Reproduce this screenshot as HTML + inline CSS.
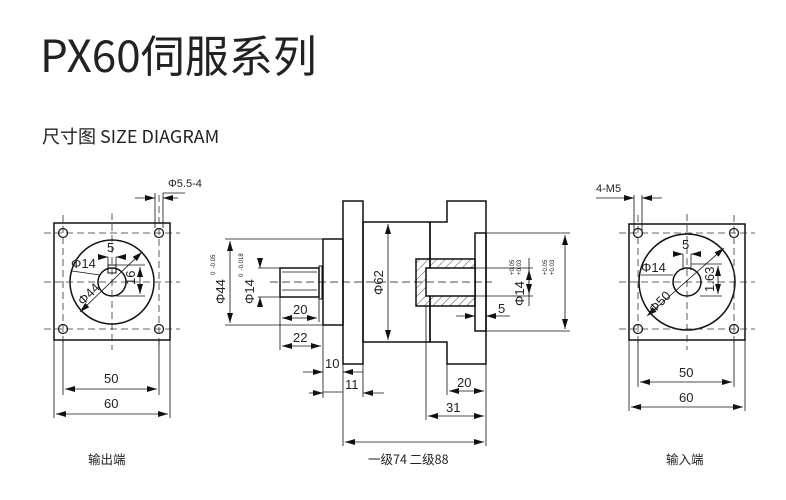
<!DOCTYPE html>
<html><head><meta charset="utf-8"><style>
html,body{margin:0;padding:0;background:#fff;}
svg{display:block;}
text{font-family:"Liberation Sans","Noto Sans CJK SC",sans-serif;fill:#222;}
.cjk{font-family:"Noto Sans CJK SC",sans-serif;}
</style></head><body>
<svg width="786" height="500" viewBox="0 0 786 500" xmlns="http://www.w3.org/2000/svg">
<defs>
<marker id="a" viewBox="0 0 10 6" refX="10" refY="3" markerWidth="10" markerHeight="6" orient="auto-start-reverse" markerUnits="userSpaceOnUse"><path d="M0,0L10,3L0,6z" fill="#111"/></marker>
<pattern id="h" width="6" height="6" patternUnits="userSpaceOnUse" patternTransform="rotate(45)"><line x1="0" y1="0" x2="0" y2="6" stroke="#222" stroke-width="0.8"/></pattern>
</defs>
<text class="cjk" x="40" y="72" font-size="44">PX60伺服系列</text>
<text class="cjk" x="42" y="143" font-size="18">尺寸图 SIZE DIAGRAM</text>

<g stroke="#111" fill="none" stroke-width="1.2">
<!-- LEFT VIEW -->
<rect x="54" y="223" width="116" height="117" stroke-width="1.5"/>
<circle cx="112" cy="282" r="42" stroke-width="1.5"/>
<circle cx="112" cy="282" r="14" stroke-width="1.5"/>
<rect x="108" y="265" width="8" height="8" stroke-width="1"/>
<circle cx="63" cy="233" r="4.5"/><circle cx="159" cy="233" r="4.5"/>
<circle cx="63" cy="329" r="4.5"/><circle cx="159" cy="329" r="4.5"/>
<g stroke-dasharray="7,4" stroke-width="0.8" stroke="#333">
<line x1="112" y1="213" x2="112" y2="350"/><line x1="44" y1="282" x2="180" y2="282"/>
<line x1="63" y1="215" x2="63" y2="345"/><line x1="159" y1="195" x2="159" y2="345"/>
<line x1="44" y1="233" x2="180" y2="233"/><line x1="44" y1="329" x2="180" y2="329"/>
</g>
<g stroke-width="0.8">
<line x1="63" y1="340" x2="63" y2="395"/><line x1="159" y1="340" x2="159" y2="395"/>
<line x1="54" y1="340" x2="54" y2="418"/><line x1="170" y1="340" x2="170" y2="418"/>
<line x1="65" y1="389" x2="157" y2="389" marker-start="url(#a)" marker-end="url(#a)"/>
<line x1="56" y1="414" x2="168" y2="414" marker-start="url(#a)" marker-end="url(#a)"/>
<line x1="155" y1="193" x2="155" y2="228"/><line x1="163" y1="193" x2="163" y2="228"/>
<line x1="135" y1="198" x2="155" y2="198" marker-end="url(#a)"/><line x1="178" y1="198" x2="163" y2="198" marker-end="url(#a)"/>
<line x1="163" y1="193" x2="185" y2="193"/>
<line x1="98" y1="257" x2="108" y2="257" marker-end="url(#a)"/><line x1="126" y1="257" x2="116" y2="257" marker-end="url(#a)"/>
<line x1="108" y1="257" x2="108" y2="265"/><line x1="116" y1="257" x2="116" y2="265"/>
<line x1="116" y1="265" x2="145" y2="265"/><line x1="116" y1="296" x2="145" y2="296"/>
<line x1="140" y1="267" x2="140" y2="294" marker-start="url(#a)" marker-end="url(#a)"/>
<line x1="72" y1="271" x2="100" y2="275"/>
<line x1="80" y1="312" x2="142" y2="252" marker-start="url(#a)" marker-end="url(#a)"/>
</g>

<!-- RIGHT VIEW -->
<rect x="629" y="224" width="116" height="116" stroke-width="1.5"/>
<circle cx="687" cy="282" r="48" stroke-width="1.5"/>
<circle cx="687" cy="282" r="14" stroke-width="1.5"/>
<circle cx="638" cy="233" r="4.5"/><circle cx="734" cy="233" r="4.5"/>
<circle cx="638" cy="329" r="4.5"/><circle cx="734" cy="329" r="4.5"/>
<g stroke-dasharray="7,4" stroke-width="0.8" stroke="#333">
<line x1="687" y1="214" x2="687" y2="350"/><line x1="619" y1="282" x2="755" y2="282"/>
<line x1="638" y1="215" x2="638" y2="345"/><line x1="734" y1="215" x2="734" y2="345"/>
<line x1="619" y1="233" x2="755" y2="233"/><line x1="619" y1="329" x2="755" y2="329"/>
</g>
<g stroke-width="0.8">
<line x1="638" y1="340" x2="638" y2="387"/><line x1="734" y1="340" x2="734" y2="387"/>
<line x1="629" y1="340" x2="629" y2="411"/><line x1="745" y1="340" x2="745" y2="411"/>
<line x1="640" y1="382" x2="732" y2="382" marker-start="url(#a)" marker-end="url(#a)"/>
<line x1="631" y1="407" x2="743" y2="407" marker-start="url(#a)" marker-end="url(#a)"/>
<line x1="634" y1="195" x2="634" y2="230"/><line x1="642" y1="195" x2="642" y2="230"/>
<line x1="596" y1="198" x2="634" y2="198" marker-end="url(#a)"/><line x1="662" y1="198" x2="642" y2="198" marker-end="url(#a)"/>
<line x1="674" y1="254" x2="683" y2="254" marker-end="url(#a)"/><line x1="700" y1="254" x2="691" y2="254" marker-end="url(#a)"/>
<line x1="683" y1="254" x2="683" y2="270"/><line x1="691" y1="254" x2="691" y2="270"/>
<line x1="691" y1="264" x2="722" y2="264"/><line x1="700" y1="296" x2="722" y2="296"/>
<line x1="718" y1="266" x2="718" y2="294" marker-start="url(#a)" marker-end="url(#a)"/>
<line x1="641" y1="275" x2="673" y2="275"/>
<line x1="647" y1="316" x2="724" y2="248" marker-start="url(#a)" marker-end="url(#a)"/>
</g>

<!-- SIDE VIEW -->
<g stroke-width="1.5">
<rect x="280" y="268" width="39" height="29"/>
<rect x="319" y="266" width="3" height="33" stroke-width="1"/>
<rect x="323" y="239" width="20" height="86"/>
<rect x="343" y="201" width="20" height="163"/>
<rect x="363" y="222" width="67" height="120"/>
<path d="M430,222 H447 V201 H486 V364 H447 V342 H430 Z"/>
<rect x="475" y="233" width="11" height="98"/>
<rect x="416" y="259" width="59" height="47" fill="url(#h)"/>
<rect x="426" y="268" width="49" height="28" fill="#fff"/>
</g>
<line x1="282" y1="272" x2="317" y2="272" stroke-width="0.8"/>
<line x1="282" y1="290" x2="317" y2="290" stroke-width="0.8"/>
<line x1="270" y1="282" x2="492" y2="282" stroke-dasharray="8,4" stroke-width="0.8"/>
<g stroke-width="0.8">
<line x1="225" y1="239" x2="323" y2="239"/><line x1="225" y1="325" x2="323" y2="325"/>
<line x1="230" y1="241" x2="230" y2="323" marker-start="url(#a)" marker-end="url(#a)"/>
<line x1="258" y1="268" x2="280" y2="268"/><line x1="258" y1="297" x2="280" y2="297"/>
<line x1="260" y1="258" x2="260" y2="268" marker-end="url(#a)"/><line x1="260" y1="306" x2="260" y2="297" marker-end="url(#a)"/>
<line x1="388" y1="224" x2="388" y2="340" marker-start="url(#a)" marker-end="url(#a)"/>
<line x1="486" y1="233" x2="570" y2="233"/><line x1="486" y1="331" x2="570" y2="331"/>
<line x1="565" y1="235" x2="565" y2="329" marker-start="url(#a)" marker-end="url(#a)"/>
<line x1="426" y1="268" x2="533" y2="268"/><line x1="426" y1="296" x2="533" y2="296"/>
<line x1="529" y1="258" x2="529" y2="306"/>
<line x1="529" y1="270" x2="529" y2="294" marker-start="url(#a)" marker-end="url(#a)"/>
<line x1="456" y1="316" x2="475" y2="316" marker-end="url(#a)"/><line x1="510" y1="316" x2="486" y2="316" marker-end="url(#a)"/>
<line x1="280" y1="297" x2="280" y2="350"/><line x1="319" y1="299" x2="319" y2="322"/>
<line x1="282" y1="318" x2="317" y2="318" marker-start="url(#a)" marker-end="url(#a)"/>
<line x1="323" y1="325" x2="323" y2="398"/>
<line x1="282" y1="346" x2="321" y2="346" marker-start="url(#a)" marker-end="url(#a)"/>
<line x1="343" y1="364" x2="343" y2="446"/><line x1="363" y1="364" x2="363" y2="397"/>
<line x1="303" y1="372" x2="323" y2="372" marker-end="url(#a)"/><line x1="363" y1="372" x2="343" y2="372" marker-end="url(#a)"/>
<line x1="323" y1="392" x2="343" y2="392"/><line x1="309" y1="393" x2="323" y2="393" marker-end="url(#a)"/><line x1="384" y1="393" x2="363" y2="393" marker-end="url(#a)"/>
<line x1="426" y1="306" x2="426" y2="420"/><line x1="447" y1="364" x2="447" y2="395"/><line x1="486" y1="364" x2="486" y2="446"/>
<line x1="449" y1="391" x2="484" y2="391" marker-start="url(#a)" marker-end="url(#a)"/>
<line x1="428" y1="416" x2="484" y2="416" marker-start="url(#a)" marker-end="url(#a)"/>
<line x1="345" y1="442" x2="484" y2="442" marker-start="url(#a)" marker-end="url(#a)"/>
</g>
</g>

<g font-size="13">
<text x="168" y="187" font-size="11">Φ5.5-4</text>
<text x="107" y="252">5</text>
<text x="71" y="268">Φ14</text>
<text x="0" y="0" transform="translate(135,285) rotate(-90)">16</text>
<text x="0" y="0" transform="translate(83,306) rotate(-45)">Φ44</text>
<text x="104" y="383">50</text>
<text x="104" y="408">60</text>
<text class="cjk" x="88" y="464" font-size="12.5">输出端</text>

<text x="596" y="192" font-size="11">4-M5</text>
<text x="682" y="249">5</text>
<text x="641" y="272">Φ14</text>
<text x="0" y="0" transform="translate(714,292) rotate(-90)">1.63</text>
<text x="0" y="0" transform="translate(654,314) rotate(-45)">Φ50</text>
<text x="679" y="377">50</text>
<text x="679" y="402">60</text>
<text class="cjk" x="666" y="464" font-size="12.5">输入端</text>

<text x="0" y="0" transform="translate(225,304) rotate(-90)">Φ44</text>
<text x="0" y="0" transform="translate(215,275) rotate(-90)" font-size="6">0 &#160;-0.05</text>
<text x="0" y="0" transform="translate(254,304) rotate(-90)">Φ14</text>
<text x="0" y="0" transform="translate(243,277) rotate(-90)" font-size="6">0 &#160;-0.018</text>
<text x="0" y="0" transform="translate(383,295) rotate(-90)">Φ62</text>
<text x="0" y="0" transform="translate(524,306) rotate(-90)">Φ14</text>
<text x="0" y="0" transform="translate(514,275) rotate(-90)" font-size="6">+0.05</text>
<text x="0" y="0" transform="translate(521,275) rotate(-90)" font-size="6">+0.03</text>
<text x="0" y="0" transform="translate(547,275) rotate(-90)" font-size="6">+0.05</text>
<text x="0" y="0" transform="translate(554,275) rotate(-90)" font-size="6">+0.03</text>
<text x="498" y="313">5</text>
<text x="293" y="314">20</text>
<text x="293" y="342">22</text>
<text x="325" y="368">10</text>
<text x="345" y="389">11</text>
<text x="457" y="387">20</text>
<text x="446" y="412">31</text>
<text class="cjk" x="368" y="464" font-size="12.5">一级74 二级88</text>
</g>
</svg>
</body></html>
